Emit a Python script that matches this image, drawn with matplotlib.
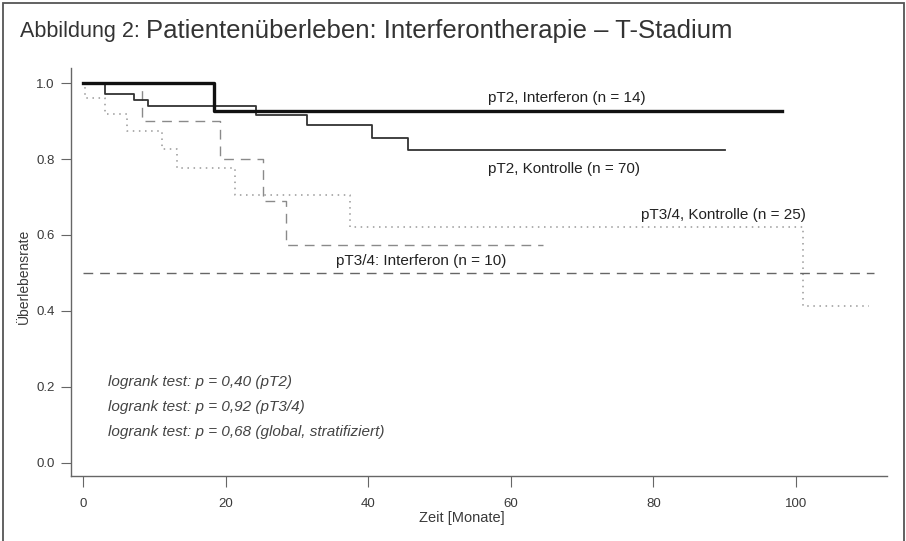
import matplotlib
matplotlib.use("Agg")
import matplotlib.pyplot as plt
from matplotlib.patches import Rectangle

plt.rcParams['font.family'] = ['Liberation Sans', 'DejaVu Sans']

# Kaplan-Meier steps (Zeit in Monaten, Ueberlebensrate)
t_pt2_ifn = [0, 18.3, 98.1]
s_pt2_ifn = [1.0, 0.926, 0.926]

t_pt2_ktr = [0, 3.0, 7.1, 9.1, 24.3, 31.4, 40.5, 45.6, 90.0]
s_pt2_ktr = [1.0, 0.972, 0.956, 0.939, 0.917, 0.889, 0.855, 0.823, 0.823]

t_pt34_ifn = [0, 8.2, 19.2, 25.2, 28.4, 64.5]
s_pt34_ifn = [1.0, 0.90, 0.80, 0.69, 0.573, 0.573]

t_pt34_ktr = [0, 0.2, 3.0, 6.1, 11.1, 13.1, 21.3, 37.4, 101.0, 110.3]
s_pt34_ktr = [1.0, 0.96, 0.92, 0.875, 0.827, 0.777, 0.706, 0.621, 0.412, 0.412]

ref_t = [0, 111]
ref_s = [0.5, 0.5]

curve_labels = ["pT2, Interferon (n = 14)", "pT2, Kontrolle (n = 70)",
                "pT3/4, Kontrolle (n = 25)", "pT3/4: Interferon (n = 10)"]
logrank = ["logrank test: p = 0,40 (pT2)",
           "logrank test: p = 0,92 (pT3/4)",
           "logrank test: p = 0,68 (global, stratifiziert)"]
x_ticks = [0, 20, 40, 60, 80, 100]
y_ticks = [0.0, 0.2, 0.4, 0.6, 0.8, 1.0]

fig = plt.figure(figsize=(9.06, 5.41), dpi=100)
fig.patches.append(Rectangle((0.003, -0.01), 0.995, 1.005, transform=fig.transFigure,
                             fill=False, edgecolor='#555555', linewidth=1.3))

# title: small prefix + larger main text
t1 = fig.text(20 / 906, 1 - 32 / 541, "Abbildung 2: ", fontsize=15.5,
              color='#333333', va='center', ha='left')
fig.canvas.draw()
bb = t1.get_window_extent()
fig.text(bb.x1 / 906, 1 - 31 / 541, "Patientenüberleben: Interferontherapie – T-Stadium",
         fontsize=18.5, color='#333333', va='center', ha='left')

ax = fig.add_axes([70.7 / 906, 1 - 476 / 541, (887 - 70.7) / 906, (476 - 68) / 541])

ax.step(t_pt34_ktr, s_pt34_ktr, where='post', color='#999999', lw=1.1, linestyle=(0, (1, 3)))
ax.step(t_pt34_ifn, s_pt34_ifn, where='post', color='#8a8a8a', lw=1.0, linestyle=(0, (7, 5)))
ax.plot(ref_t, ref_s, color='#666666', lw=1.0, linestyle=(0, (7, 5)))
ax.step(t_pt2_ktr, s_pt2_ktr, where='post', color='#333333', lw=1.3)
ax.step(t_pt2_ifn, s_pt2_ifn, where='post', color='#111111', lw=2.4)

lab_fs = 11
ax.text(67.9, 0.961, curve_labels[0], ha='center', va='center', fontsize=lab_fs, color='#222222')
ax.text(67.4, 0.773, curve_labels[1], ha='center', va='center', fontsize=lab_fs, color='#222222')
ax.text(89.8, 0.654, curve_labels[2], ha='center', va='center', fontsize=lab_fs, color='#222222')
ax.text(47.4, 0.531, curve_labels[3], ha='center', va='center', fontsize=lab_fs, color='#222222')

for i, s in enumerate(logrank):
    ax.text(3.5, 0.213 - i * 0.066, s, ha='left', va='center', fontsize=11,
            style='italic', color='#444444')

ax.set_xlim(-1.77, 112.8)
ax.set_ylim(-0.035, 1.04)
ax.set_xticks(x_ticks)
ax.set_yticks(y_ticks)
ax.set_yticklabels([f"{v:.1f}" for v in y_ticks])
for side in ['top', 'right']:
    ax.spines[side].set_visible(False)
for side in ['left', 'bottom']:
    ax.spines[side].set_color('#666666')
    ax.spines[side].set_linewidth(1.0)
ax.tick_params(axis='x', length=8, pad=8, colors='#666666', labelcolor='#3a3a3a', labelsize=9.5)
ax.tick_params(axis='y', length=7.5, pad=4, colors='#666666', labelcolor='#3a3a3a', labelsize=9.5)

ax.set_xlabel("Zeit [Monate]", fontsize=10.5, color='#3a3a3a', va='center')
ax.xaxis.set_label_coords(0.479, -0.102)
ax.set_ylabel("Überlebensrate", fontsize=10, color='#3a3a3a', va='center')
ax.yaxis.set_label_coords(-0.057, 0.49)

fig.savefig("out.png", dpi=100)
